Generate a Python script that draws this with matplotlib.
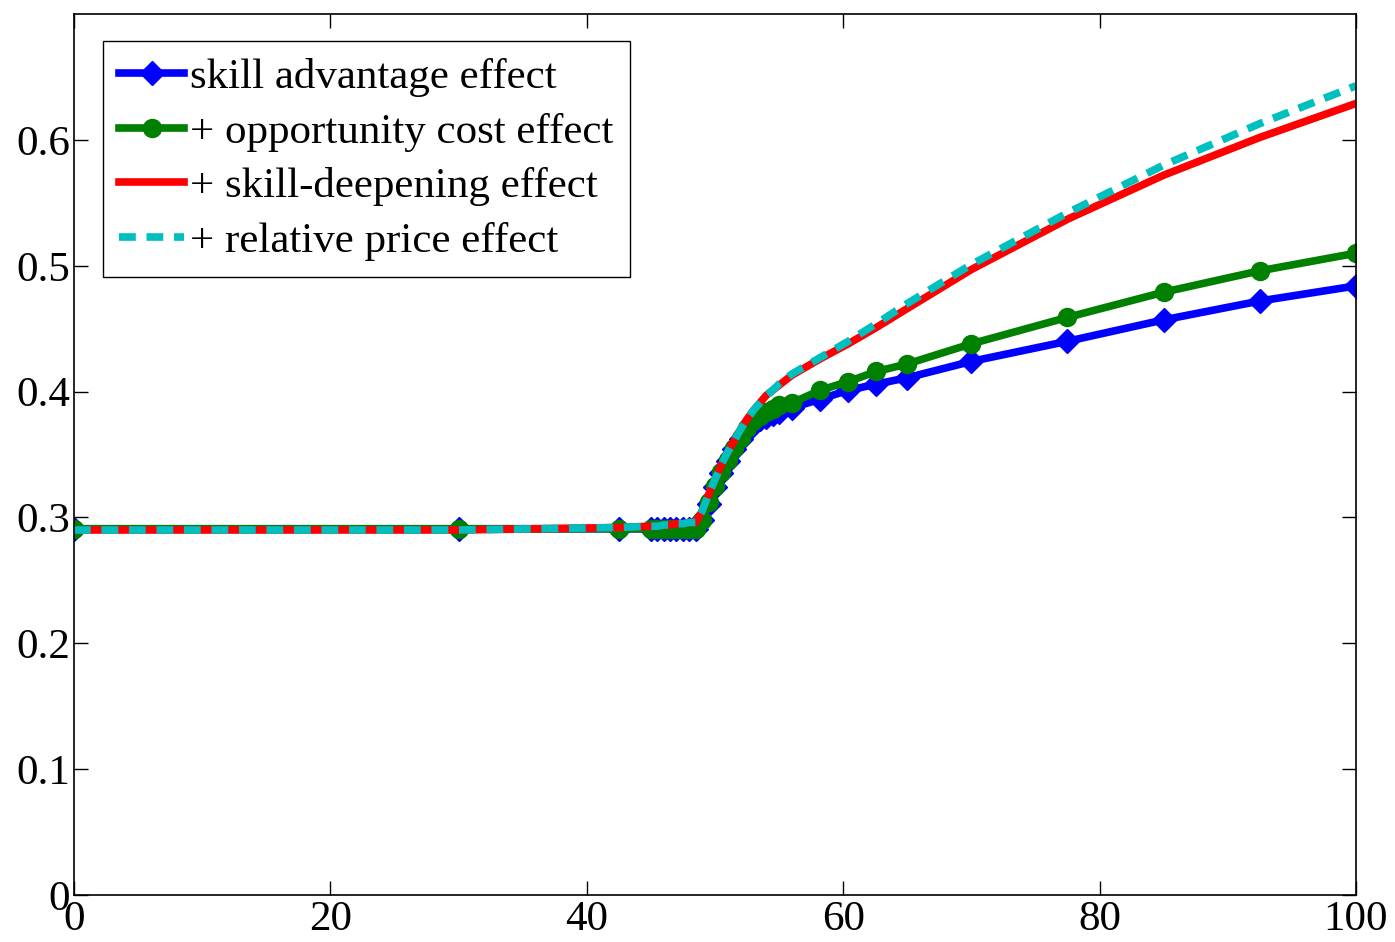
import matplotlib
matplotlib.use("Agg")
import matplotlib.pyplot as plt

# x grid (shared by all series)
x = [0, 30, 42.5, 45, 45.5, 46, 46.5, 47, 47.5, 48, 48.5,
     49, 49.5, 50, 50.5, 51, 51.5, 52, 52.5, 53, 53.5, 54, 54.5, 55,
     56, 58.2, 60.4, 62.6, 65, 70, 77.5, 85, 92.5, 100]

skill_adv = [0.291, 0.291, 0.291, 0.291, 0.291, 0.291, 0.291, 0.291, 0.291, 0.291, 0.291,
             0.298, 0.311, 0.324, 0.335, 0.345, 0.354, 0.362, 0.369, 0.374, 0.378, 0.380, 0.382, 0.384,
             0.387, 0.394, 0.401, 0.406, 0.411, 0.424, 0.440, 0.457, 0.472, 0.484]

opp_cost = [0.291, 0.291, 0.291, 0.291, 0.291, 0.291, 0.291, 0.291, 0.291, 0.291, 0.291,
            0.298, 0.312, 0.325, 0.336, 0.346, 0.355, 0.363, 0.371, 0.377, 0.381, 0.384, 0.386, 0.389,
            0.391, 0.401, 0.408, 0.416, 0.422, 0.438, 0.459, 0.479, 0.496, 0.510]

deepening = [0.290, 0.290, 0.292, 0.293, 0.293, 0.294, 0.294, 0.295, 0.295, 0.296, 0.296,
             0.305, 0.318, 0.330, 0.342, 0.352, 0.361, 0.370, 0.378, 0.385, 0.391, 0.397, 0.401, 0.405,
             0.413, 0.426, 0.438, 0.451, 0.466, 0.497, 0.537, 0.572, 0.602, 0.629]

rel_price = [0.290, 0.290, 0.292, 0.293, 0.293, 0.294, 0.294, 0.295, 0.295, 0.296, 0.296,
             0.305, 0.318, 0.330, 0.342, 0.352, 0.361, 0.370, 0.378, 0.385, 0.391, 0.397, 0.401, 0.406,
             0.414, 0.427, 0.440, 0.454, 0.470, 0.501, 0.542, 0.580, 0.613, 0.643]

labels = ["skill advantage effect", "+ opportunity cost effect",
          "+ skill-deepening effect", "+ relative price effect"]
xticks = [0, 20, 40, 60, 80, 100]
yticks = [0, 0.1, 0.2, 0.3, 0.4, 0.5, 0.6]

plt.rcParams["font.family"] = ["Liberation Serif", "DejaVu Serif"]
plt.rcParams["font.size"] = 31

fig = plt.figure(figsize=(13.95, 9.42), dpi=100)
ax = fig.add_axes([0.053, 0.05, 0.919, 0.935])

lw = 5.5
ax.plot(x, skill_adv, color="#0000ff", lw=lw, marker="D", ms=12, label=labels[0])
ax.plot(x, opp_cost, color="#008000", lw=lw, marker="o", ms=13, label=labels[1])
ax.plot(x, deepening, color="#ff0000", lw=lw, label=labels[2])
ax.plot(x, rel_price, color="#00bfbf", lw=lw, ls=(0, (2.2, 1.4)), label=labels[3])

ax.set_xlim(0, 100)
ax.set_ylim(0, 0.7)
ax.set_xticks(xticks)
ax.set_xticklabels([str(v) for v in xticks])
ax.set_yticks(yticks)
ax.set_yticklabels(["0"] + [f"{v:.1f}" for v in yticks[1:]])
ax.tick_params(direction="in", top=True, right=True, length=10, width=1)
ax.tick_params(axis="x", pad=4)
ax.tick_params(axis="y", pad=3)
for s in ax.spines.values():
    s.set_linewidth(1.2)

leg = ax.legend(loc="upper left", bbox_to_anchor=(0.0226, 0.969), numpoints=1,
                fontsize=31, handlelength=1.5, handletextpad=0.15, labelspacing=0.36,
                borderpad=0.38, borderaxespad=0, fancybox=False, framealpha=1)
leg.get_frame().set_edgecolor("black")
leg.get_frame().set_linewidth(1.0)

fig.savefig("out.png", dpi=100)
